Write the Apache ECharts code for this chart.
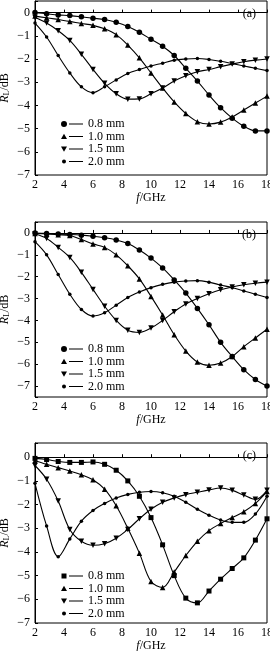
<!DOCTYPE html>
<html>
<head>
<meta charset="utf-8">
<script src="https://cdn.jsdelivr.net/npm/echarts@6/dist/echarts.min.js"></script>
<style>
  html, body { margin: 0; padding: 0; background: #fff; }
  #chart { width: 270px; height: 651px; }
</style>
</head>
<body>
<div id="chart"></div>
<script>
// frequency points (GHz), markers every 0.8 GHz
const freq = [2, 2.8, 3.6, 4.4, 5.2, 6, 6.8, 7.6, 8.4, 9.2, 10, 10.8, 11.6, 12.4, 13.2, 14, 14.8, 15.6, 16.4, 17.2, 18]
const thick = ['0.8 mm', '1.0 mm', '1.5 mm', '2.0 mm']
const panels = ['(a)', '(b)', '(c)']
const xTicks = [2, 4, 6, 8, 10, 12, 14, 16, 18]

// panel (a)
const a08 = [0, -0.05, -0.1, -0.13, -0.18, -0.24, -0.3, -0.42, -0.6, -0.85, -1.15, -1.45, -1.85, -2.4, -2.95, -3.55, -4.1, -4.55, -4.9, -5.1, -5.1]
const a10 = [-0.15, -0.22, -0.3, -0.38, -0.47, -0.55, -0.7, -0.95, -1.4, -1.95, -2.6, -3.25, -3.85, -4.35, -4.7, -4.8, -4.72, -4.5, -4.2, -3.9, -3.6]
const a15 = [-0.2, -0.45, -0.78, -1.2, -1.8, -2.45, -3.05, -3.5, -3.73, -3.72, -3.5, -3.25, -2.95, -2.72, -2.55, -2.45, -2.33, -2.22, -2.12, -2.05, -2.0]
const a20 = [-0.45, -1.05, -1.85, -2.6, -3.2, -3.45, -3.2, -2.9, -2.62, -2.45, -2.3, -2.18, -2.05, -2.0, -1.98, -2.02, -2.1, -2.2, -2.3, -2.4, -2.5]
// panel (b)
const b08 = [0, -0.02, -0.05, -0.07, -0.1, -0.15, -0.22, -0.32, -0.48, -0.78, -1.15, -1.6, -2.15, -2.75, -3.45, -4.2, -5.0, -5.65, -6.25, -6.7, -7.0]
const b10 = [-0.02, -0.05, -0.08, -0.12, -0.3, -0.5, -0.66, -1.0, -1.5, -2.1, -2.9, -3.75, -4.65, -5.4, -5.9, -6.05, -5.95, -5.65, -5.2, -4.8, -4.4]
const b15 = [-0.05, -0.25, -0.66, -1.12, -1.8, -2.58, -3.35, -4.0, -4.45, -4.55, -4.35, -4.0, -3.6, -3.25, -3.0, -2.78, -2.6, -2.47, -2.37, -2.3, -2.25]
const b20 = [-0.4, -1.0, -1.9, -2.8, -3.5, -3.8, -3.65, -3.3, -2.95, -2.7, -2.5, -2.35, -2.25, -2.2, -2.18, -2.25, -2.38, -2.5, -2.65, -2.8, -2.95]
// panel (c)
const c08 = [-0.05, -0.1, -0.18, -0.22, -0.22, -0.2, -0.3, -0.55, -1.0, -1.65, -2.55, -3.7, -5.0, -5.95, -6.15, -5.65, -5.15, -4.7, -4.25, -3.5, -2.6]
const c10 = [-0.15, -0.3, -0.44, -0.58, -0.74, -0.95, -1.35, -2.05, -3.0, -4.05, -5.25, -5.5, -4.85, -4.15, -3.55, -3.1, -2.8, -2.55, -2.3, -1.95, -1.45]
const c15 = [-0.35, -0.93, -1.85, -3.05, -3.55, -3.72, -3.65, -3.42, -3.05, -2.6, -2.2, -1.9, -1.72, -1.58, -1.48, -1.38, -1.3, -1.4, -1.6, -1.78, -1.4]
const c20 = [-1.1, -2.9, -4.2, -3.45, -2.7, -2.25, -1.95, -1.72, -1.57, -1.48, -1.45, -1.5, -1.65, -1.9, -2.2, -2.45, -2.65, -2.75, -2.75, -2.4, -1.65]

const panelData = [[a08, a10, a15, a20], [b08, b10, b15, b20], [c08, c10, c15, c20]]
const yRange = [[-7, 0.5], [-7.5, 0.5], [-7, 0.6]]

const font = 'Liberation Serif'
const downTri = 'path://M0,0L10,0L5,9Z'
// marker per thickness; panel (c) uses a square for 0.8 mm
const markers = [
  [['circle', 5.5], ['triangle', 5.5], [downTri, 5.5], ['circle', 3.5]],
  [['circle', 5.5], ['triangle', 5.5], [downTri, 5.5], ['circle', 3.5]],
  [['rect', 5], ['triangle', 5.5], [downTri, 5.5], ['circle', 3.5]]
]
// legend icons: marker then a short line
const iconOf = {
  circle: 'path://M0,0M22,6M0,3A3,3,0,1,1,6,3A3,3,0,1,1,0,3ZM8,2.4H22V3.6H8Z',
  triangle: 'path://M0,0M22,6M0,5.6L3,0.2L6,5.6ZM8,2.4H22V3.6H8Z',
  down: 'path://M0,0M22,6M0,0.4L6,0.4L3,5.8ZM8,2.4H22V3.6H8Z',
  dot: 'path://M0,0M22,6M1,3A2,2,0,1,1,5,3A2,2,0,1,1,1,3ZM8,2.4H22V3.6H8Z',
  rect: 'path://M0,0M22,6M0.5,0.5H5.5V5.5H0.5ZM8,2.4H22V3.6H8Z'
}
const legendIcons = [
  ['circle', 'triangle', 'down', 'dot'],
  ['circle', 'triangle', 'down', 'dot'],
  ['rect', 'triangle', 'down', 'dot']
]

const grids = [
  {left: 35, top: 1, width: 232, height: 174},
  {left: 35, top: 222, width: 232, height: 175},
  {left: 35, top: 443, width: 232, height: 180}
]
const legendTops = [113, 338, 565]

const minus = v => String(v).replace('-', '\u2212')

let option = {
  backgroundColor: '#fff',
  animation: false,
  textStyle: {fontFamily: font, color: '#000'},
  title: panels.map((p, i) => ({
    text: p, right: 9, top: grids[i].top + 2,
    textStyle: {fontFamily: font, fontSize: 12, fontWeight: 'normal', color: '#000'}
  })),
  grid: grids.map(g => Object.assign({show: true, borderColor: '#000', borderWidth: 1, backgroundColor: 'transparent', outerBoundsMode: 'none', containLabel: false}, g)),
  legend: panels.map((p, i) => ({
    orient: 'vertical', left: 56, top: legendTops[i],
    itemWidth: 22, itemHeight: 6, itemGap: 0.5,
    selectedMode: false,
    data: thick.map((t, k) => ({name: i + '|' + t, icon: iconOf[legendIcons[i][k]]})),
    formatter: n => n.split('|')[1],
    textStyle: {fontFamily: font, fontSize: 12, color: '#000', lineHeight: 12},
    itemStyle: {color: '#000'}
  })),
  xAxis: panels.map((p, i) => ({
    type: 'value', gridIndex: i, min: xTicks[0], max: xTicks[xTicks.length - 1], interval: 2,
    name: '{i|f}/GHz', nameLocation: 'middle', nameGap: 15,
    nameTextStyle: {fontFamily: font, fontSize: 12, color: '#000',
      rich: {i: {fontFamily: font, fontSize: 12, fontStyle: 'italic', color: '#000'}}},
    axisLine: {lineStyle: {color: '#000', width: 1}},
    axisTick: {inside: true, length: 3, lineStyle: {color: '#000'}},
    axisLabel: {fontFamily: font, fontSize: 12, color: '#000', margin: 4, formatter: v => xTicks.includes(v) ? String(v) : ''},
    splitLine: {show: false}
  })),
  yAxis: panels.map((p, i) => ({
    type: 'value', gridIndex: i, min: yRange[i][0], max: yRange[i][1], splitNumber: 8,
    name: '{i|R}{s|L}/dB', nameLocation: 'middle', nameGap: 24, nameRotate: 90,
    nameMoveOverlap: false,
    nameTextStyle: {fontFamily: font, fontSize: 12, color: '#000',
      rich: {
        i: {fontFamily: font, fontSize: 12, fontStyle: 'italic', color: '#000'},
        s: {fontFamily: font, fontSize: 8, color: '#000', verticalAlign: 'bottom', padding: [5, 0, 0, 0]}
      }},
    axisLine: {lineStyle: {color: '#000', width: 1}},
    axisTick: {inside: true, length: 3, lineStyle: {color: '#000'}},
    axisLabel: {fontFamily: font, fontSize: 12, color: '#000', margin: 5,
      formatter: v => Number.isInteger(v) ? minus(v) : ''},
    splitLine: {show: false}
  })),
  series: []
}

panelData.forEach((set, i) => {
  set.forEach((vals, k) => {
    option.series.push({
      name: i + '|' + thick[k],
      type: 'line',
      xAxisIndex: i, yAxisIndex: i,
      data: freq.map((f, j) => [f, vals[j]]),
      smooth: 0.35,
      symbol: markers[i][k][0],
      symbolSize: markers[i][k][1],
      showSymbol: true,
      lineStyle: {color: '#000', width: 1.1},
      itemStyle: {color: '#000', borderWidth: 0},
      emphasis: {disabled: true}
    })
  })
})

let chart = echarts.init(document.getElementById('chart'), null, {renderer: 'canvas'})
chart.setOption(option)
</script>
</body>
</html>
